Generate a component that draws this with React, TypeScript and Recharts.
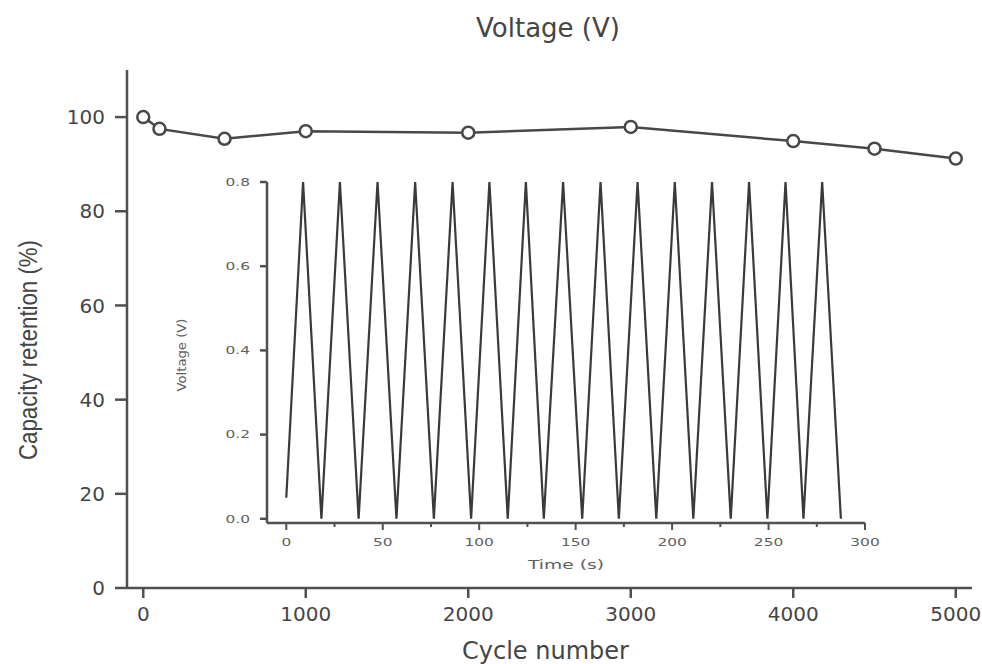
import { LineChart, Line, XAxis, YAxis, Label } from "recharts";

// ---- main chart: capacity retention over cycles ----
const cycleNumbers = [0, 100, 500, 1000, 2000, 3000, 4000, 4500, 5000];
const capacityRetention = [100, 97.5, 95.4, 97.0, 96.7, 97.9, 94.9, 93.3, 91.2];
const cycleTicks = [0, 1000, 2000, 3000, 4000, 5000];
const retentionTicks = [0, 20, 40, 60, 80, 100];

// ---- inset: galvanostatic charge / discharge curve ----
const timeSeconds = [
    0, 8.7, 18.2, 27.8, 37.5, 47.3, 57.1, 66.8, 76.5, 86.2, 95.8,
    105.3, 114.8, 124.2, 133.5, 143.5, 153.4, 162.9, 172.4, 182.1, 191.8,
    201.4, 211.0, 220.7, 230.4, 239.9, 249.4, 258.8, 268.1, 277.8, 287.5
];
const voltageValues = [
    0.05, 0.8, 0, 0.8, 0, 0.8, 0, 0.8, 0, 0.8, 0,
    0.8, 0, 0.8, 0, 0.8, 0, 0.8, 0, 0.8, 0,
    0.8, 0, 0.8, 0, 0.8, 0, 0.8, 0, 0.8, 0
];
const timeTicks = [0, 25, 50, 75, 100, 125, 150, 175, 200, 225, 250, 275, 300];
const voltageTicks = [0, 0.2, 0.4, 0.6, 0.8];

const retentionData = cycleNumbers.map((cycle, i) => ({
    cycle,
    retention: capacityRetention[i]
}));

const voltageData = timeSeconds.map((t, i) => ({
    t,
    v: voltageValues[i]
}));

const AXIS = "#505050";
const TEXT = "#454545";
const INSET_TEXT = "#606060";
const TICK_FONT = "'DejaVu Sans', sans-serif";

function InsetTimeTick({ x, y, payload }: any) {
    const major = payload.value % 50 === 0;
    return (
        <g>
            <line x1={x} x2={x} y1={y} y2={y + (major ? 7 : 4)} stroke={AXIS} strokeWidth={2} />
            {major && (
                <text
                    transform={`translate(${x},${y + 23}) scale(1.4,1)`}
                    textAnchor="middle"
                    fontFamily={TICK_FONT}
                    fontSize={11}
                    fill={INSET_TEXT}
                >
                    {payload.value}
                </text>
            )}
        </g>
    );
}

function InsetVoltageTick({ x, y, payload }: any) {
    return (
        <text
            transform={`translate(${x},${y}) scale(1.4,1)`}
            textAnchor="end"
            dy="0.35em"
            fontFamily={TICK_FONT}
            fontSize={11}
            fill={INSET_TEXT}
        >
            {Number(payload.value).toFixed(1)}
        </text>
    );
}

export default function App() {
    return (
        <div style={{ position: "absolute", left: 0, top: 0, width: 982, height: 664, background: "#fff" }}>

            {/* TITLE */}
            <div
                style={{
                    position: "absolute",
                    left: 548,
                    top: 13,
                    transform: "translateX(-50%)",
                    fontFamily: TICK_FONT,
                    fontSize: 26,
                    color: TEXT,
                    whiteSpace: "nowrap"
                }}
            >
                Voltage (V)
            </div>

            {/* MAIN CHART */}
            <LineChart
                width={982}
                height={664}
                data={retentionData}
                margin={{ top: 70, right: 10, bottom: 0, left: 0 }}
                style={{ position: "absolute", left: 0, top: 0 }}
            >
                <XAxis
                    dataKey="cycle"
                    type="number"
                    domain={[-100, 5100]}
                    ticks={cycleTicks}
                    height={76}
                    stroke={AXIS}
                    strokeWidth={2.5}
                    tickSize={10}
                    tickMargin={9}
                    tick={{ fill: TEXT, fontSize: 20, fontFamily: TICK_FONT }}
                >
                    <Label
                        content={({ viewBox }: any) => (
                            <text
                                x={viewBox.x + viewBox.width / 2 - 4}
                                y={viewBox.y + 71}
                                textAnchor="middle"
                                fontFamily={TICK_FONT}
                                fontSize={24}
                                fill={TEXT}
                            >
                                Cycle number
                            </text>
                        )}
                    />
                </XAxis>
                <YAxis
                    type="number"
                    domain={[0, 110]}
                    ticks={retentionTicks}
                    width={127}
                    stroke={AXIS}
                    strokeWidth={2.5}
                    tickSize={12}
                    tickMargin={10}
                    tick={{ fill: TEXT, fontSize: 20, fontFamily: TICK_FONT }}
                >
                    <Label
                        content={({ viewBox }: any) => {
                            const cx = viewBox.x + 28;
                            const cy = viewBox.y + viewBox.height / 2 + 21;
                            return (
                                <text
                                    x={cx}
                                    y={cy}
                                    transform={`rotate(-90, ${cx}, ${cy})`}
                                    textAnchor="middle"
                                    dominantBaseline="central"
                                    fontFamily="'Liberation Sans', Arial, sans-serif"
                                    fontSize={26}
                                    textLength={220}
                                    lengthAdjust="spacingAndGlyphs"
                                    fill={TEXT}
                                >
                                    Capacity retention (%)
                                </text>
                            );
                        }}
                    />
                </YAxis>
                <Line
                    type="linear"
                    dataKey="retention"
                    stroke="#484848"
                    strokeWidth={2.5}
                    dot={{ r: 6, fill: "#fff", stroke: "#484848", strokeWidth: 2.5 }}
                    isAnimationActive={false}
                />
            </LineChart>

            {/* INSET CHART */}
            <LineChart
                width={720}
                height={420}
                data={voltageData}
                margin={{ top: 22, right: 15, bottom: 0, left: 0 }}
                style={{ position: "absolute", left: 160, top: 160 }}
            >
                <XAxis
                    dataKey="t"
                    type="number"
                    domain={[-10, 300]}
                    ticks={timeTicks}
                    height={57}
                    stroke={AXIS}
                    strokeWidth={2.5}
                    tickLine={false}
                    tickSize={0}
                    tickMargin={0}
                    tick={<InsetTimeTick />}
                    interval={0}
                >
                    <Label
                        content={({ viewBox }: any) => (
                            <text
                                x={viewBox.x + viewBox.width / 2}
                                y={viewBox.y + 46}
                                textAnchor="middle"
                                fontFamily={TICK_FONT}
                                fontSize={13}
                                textLength={76}
                                lengthAdjust="spacingAndGlyphs"
                                fill={INSET_TEXT}
                            >
                                Time (s)
                            </text>
                        )}
                    />
                </XAxis>
                <YAxis
                    type="number"
                    domain={[-0.01, 0.8]}
                    ticks={voltageTicks}
                    width={107}
                    stroke={AXIS}
                    strokeWidth={2.5}
                    tickSize={7}
                    tickMargin={10}
                    tick={<InsetVoltageTick />}
                    interval={0}
                >
                    <Label
                        content={({ viewBox }: any) => {
                            const cx = viewBox.x + 22;
                            const cy = viewBox.y + 173;
                            return (
                                <text
                                    x={cx}
                                    y={cy}
                                    transform={`rotate(-90, ${cx}, ${cy})`}
                                    textAnchor="middle"
                                    dominantBaseline="central"
                                    fontFamily={TICK_FONT}
                                    fontSize={12}
                                    textLength={73}
                                    lengthAdjust="spacingAndGlyphs"
                                    fill={INSET_TEXT}
                                >
                                    Voltage (V)
                                </text>
                            );
                        }}
                    />
                </YAxis>
                <Line
                    type="linear"
                    dataKey="v"
                    stroke="#3a3a3a"
                    strokeWidth={2.2}
                    dot={false}
                    isAnimationActive={false}
                />
            </LineChart>
        </div>
    );
}
